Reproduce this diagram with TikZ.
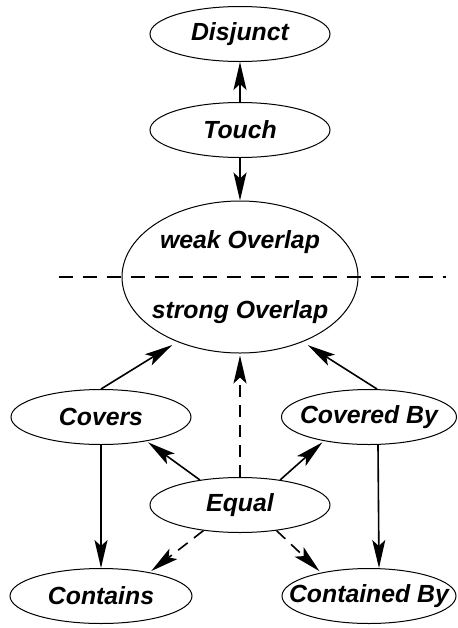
\documentclass[tikz,border=0pt]{standalone}
\usepackage{fontspec}
\setmainfont{Liberation Sans}
\usetikzlibrary{shapes.geometric, arrows.meta}
\tikzstyle{relation} = [ellipse,
draw=black,
line width=0.5pt,
minimum width=90pt,
minimum height=27.5pt,
inner sep=0pt,
font=\fontsize{12.4}{14}\selectfont\bfseries\itshape]
\tikzstyle{arrow} = [line width=0.8pt,->,>={Stealth[length=14pt,width=6.5pt,inset=3pt]}]
\tikzstyle{darrow} = [arrow, dash pattern=on 6pt off 4pt]
\newcommand{\rname}[1]{\makebox[0pt]{#1}}

\begin{document}
\begin{tikzpicture}[node distance=48pt]
\useasboundingbox (0,0) rectangle (228.5pt,-314pt);

% Nodes
\node (disjunct) [relation] at (120pt,-17pt) {\rname{Disjunct}};

\node (touch) [relation, below of=disjunct] {\rname{Touch}};

\node (overlap) [relation, below of=touch, yshift=-25.5pt, minimum width=118pt, minimum height=76pt] {};
\node (weak) [font=\fontsize{12.4}{14}\selectfont\bfseries\itshape] at ([yshift=17.5pt]overlap.center) {weak Overlap};
\node (strong) [font=\fontsize{12.4}{14}\selectfont\bfseries\itshape] at ([yshift=-17.5pt]overlap.center) {strong Overlap};

\node (equal) [relation, below of=overlap, yshift=-66pt] {\rname{Equal}};

\node (covers) [relation, left of=equal, xshift=-21.5pt, yshift=44pt] {\rname{Covers}};

\node (coveredby) [relation, right of=equal, xshift=16.5pt, yshift=44pt, minimum width=87.5pt] {\rname{Covered By}};

\node (contains) [relation, below of=covers, yshift=-41.5pt, minimum width=91pt] {\rname{Contains}};

\node (containedby) [relation, below of=coveredby, yshift=-41.5pt, minimum width=87pt] {\rname{Contained By}};

% Separator between weak and strong
\coordinate (sepleft) at ([xshift=-31.5pt]overlap.west);
\coordinate (sepright) at ([xshift=43.5pt]overlap.east);
\draw [line width=1.4pt, dash pattern=on 7pt off 5pt] (sepleft) -- (sepright);

% Connections
\draw [arrow] (touch) -- (disjunct);
\draw [arrow] (touch) -- (overlap);

\draw [arrow, shorten >=3pt] (covers.north) -- (overlap.226);
\draw [arrow, shorten >=3pt] ([xshift=4pt]coveredby.north) -- (overlap.-46);
\draw [darrow, shorten >=1pt] (equal) -- (overlap);

\draw [arrow, shorten >=1pt] (equal.148) -- (covers.-28);
\draw [arrow, shorten >=1pt] (equal.32) -- (coveredby.-152);
\draw [darrow, shorten >=1pt] (equal.215) -- (contains.26);
\draw [darrow, shorten >=1pt] (equal.-35) -- (containedby.154);

\draw [arrow] (covers) -- (contains);
\draw [arrow] ([xshift=4.5pt]coveredby.south) -- ([xshift=5pt]containedby.north);

\end{tikzpicture}
\end{document}
